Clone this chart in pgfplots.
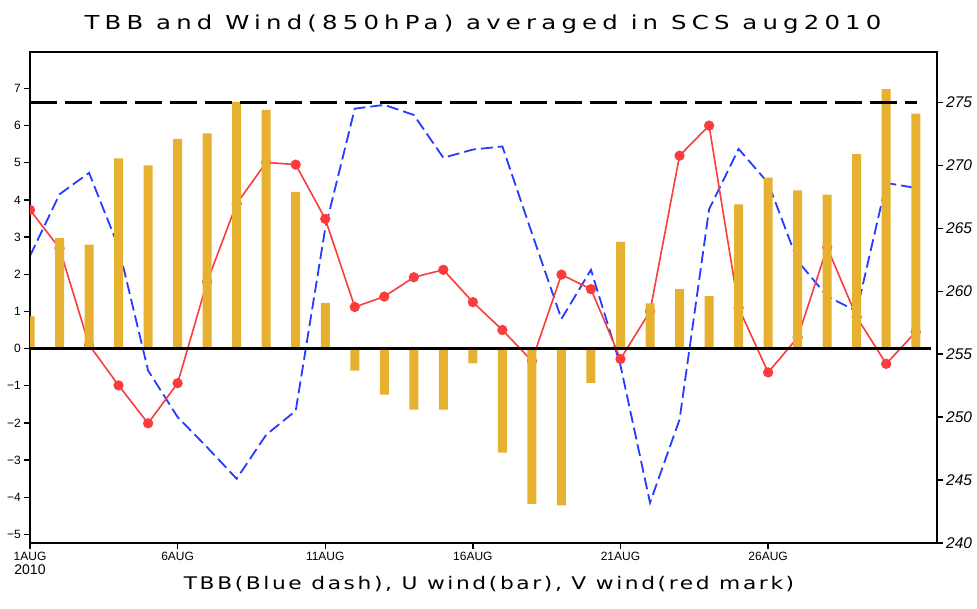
\documentclass[border=0pt]{standalone}
\usepackage{fontspec}
\setmainfont{Liberation Sans}
\usepackage{pgfplots}
\pgfplotsset{compat=1.18}
\usepackage{pgfplotstable}
\newfontfamily\grfont[FakeStretch=1.27,LetterSpace=27]{DejaVu Sans}
\newfontfamily\grlab[FakeStretch=1.25,LetterSpace=15]{DejaVu Sans}
\definecolor{barc}{RGB}{230,176,48}
\definecolor{redc}{RGB}{250,60,60}
\definecolor{bluec}{RGB}{35,60,255}

\pgfplotstableread{
day tbb u v
1 262.8 0.87 3.73
2 267.7 2.97 2.70
3 269.4 2.80 0.10
4 263.5 5.12 -0.99
5 253.7 4.93 -2.01
6 250.0 5.64 -0.93
7 247.6 5.79 1.80
8 245.1 6.64 3.90
9 248.6 6.42 5.01
10 250.5 4.22 4.95
11 265.0 1.23 3.49
12 274.5 -0.59 1.12
13 274.8 -1.24 1.40
14 274.0 -1.64 1.92
15 270.6 -1.64 2.12
16 271.25 -0.40 1.25
17 271.5 -2.80 0.50
18 264.6 -4.18 -0.33
19 257.8 -4.22 1.99
20 261.7 -0.92 1.60
21 254.1 2.87 -0.28
22 243.2 1.22 1.00
23 249.8 1.60 5.19
24 266.5 1.41 6.00
25 271.3 3.88 1.10
26 268.6 4.60 -0.64
27 262.4 4.26 0.30
28 259.6 4.14 2.72
29 258.4 5.23 0.85
30 268.6 6.98 -0.41
31 268.2 6.32 0.45
}\data

\begin{document}
\begin{tikzpicture}
% TBB axis (right)
\begin{axis}[
  at={(30pt,65pt)}, anchor=south west, scale only axis,
  width=907pt, height=491pt,
  xmin=1, xmax=31.72, ymin=240, ymax=279,
  axis x line=none, axis y line*=right,
  y axis line style={-, line width=2.5pt},
  ytick={240,245,...,275},
  tick align=outside, major tick length=6pt,
  tick style={line width=1.4pt, black},
  yticklabel style={font=\fontsize{15.5}{15.5}\selectfont\itshape, inner sep=0pt, anchor=west},
  yticklabel shift=3pt,
  /pgf/number format/assume math mode=true,
]
\addplot[bluec, line width=1.8pt, dash pattern=on 12pt off 5pt] table[x=day,y=tbb]{\data};
\end{axis}
% Wind axis (left)
\begin{axis}[
  at={(30pt,65pt)}, anchor=south west, scale only axis,
  width=907pt, height=491pt,
  xmin=1, xmax=31.72, ymin=-5.23, ymax=7.98,
  clip marker paths=true,
  axis line style={line width=2.5pt},
  xtick={1,6,11,16,21,26},
  xticklabels={{1AUG\\{\fontsize{14}{14}\selectfont 2010}},6AUG,11AUG,16AUG,21AUG,26AUG},
  ytick={-5,-4,...,7},
  yticklabels={−5,−4,−3,−2,−1,0,1,2,3,4,5,6,7},
  xtick pos=left, ytick pos=left,
  tick align=outside, major tick length=6pt,
  tick style={line width=1.4pt, black},
  xticklabel style={font=\fontsize{12}{14}\selectfont, align=center, inner sep=0pt, anchor=north},
  yticklabel style={font=\fontsize{12}{12}\selectfont, inner sep=0pt, anchor=east},
  xticklabel shift=3pt, yticklabel shift=3pt,
]
\addplot[redc, line width=1.6pt, mark=*, mark size=4.3pt, mark options={fill=redc, draw=redc, solid}] table[x=day,y=v]{\data};
\addplot[ybar, bar width=9pt, bar shift=0pt, fill=barc, draw=none] table[x=day,y=u]{\data};
\addplot[black, line width=2.5pt] coordinates {(1,0) (31.52,0)};
% 275 K threshold line (TBB axis value 275 expressed in wind-axis units)
\addplot[black, line width=3pt, dash pattern=on 27pt off 8pt] coordinates {(1,6.625) (31.05,6.625)};
\end{axis}
\node[anchor=base, inner sep=0pt] at (483pt,578.7pt) {\fontsize{19.2}{20}\grfont TBB and Wind(850hPa) averaged in SCS aug2010};
\node[anchor=base, inner sep=0pt] at (489pt,19pt) {\fontsize{17.4}{18}\grlab TBB(Blue dash), U wind(bar), V wind(red mark)};
\pgfresetboundingbox
\path[use as bounding box] (0,0) rectangle (977pt,608pt);
\end{tikzpicture}
\end{document}
